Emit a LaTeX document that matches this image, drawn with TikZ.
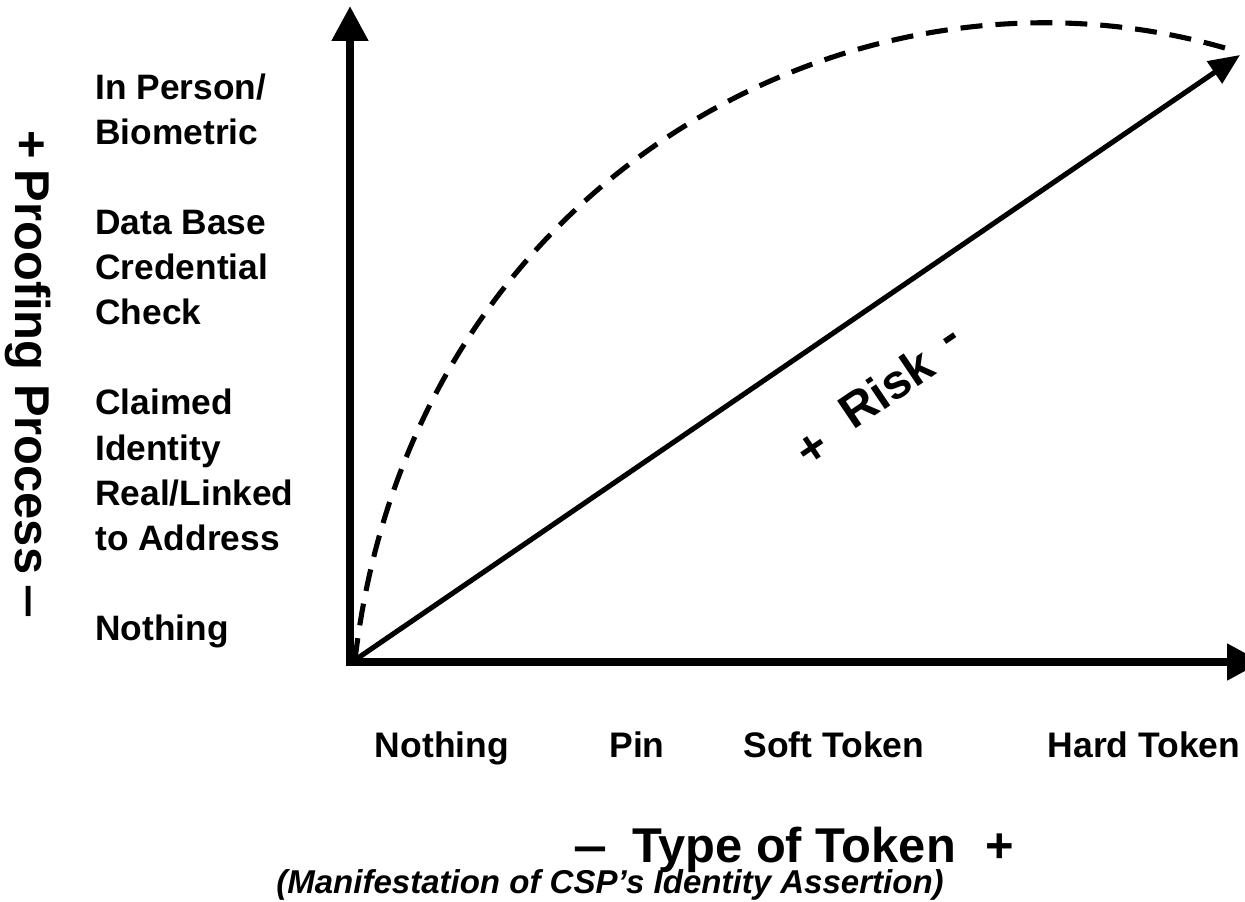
\documentclass[tikz,border=0pt]{standalone}
\usepackage{fontspec}
\setmainfont{Liberation Sans}
\usetikzlibrary{arrows.meta}
\begin{document}
\begin{tikzpicture}[x=0.02cm,y=-0.02cm,
  axis/.style={line width=4.55pt, -{Triangle[length=0.7cm,width=0.7cm]}},
  diag/.style={line width=2.9pt, -{Triangle[length=0.62cm,width=0.52cm]}},
  curve/.style={line width=2.9pt, dash pattern=on 0.44cm off 0.26cm},
  lab/.style={anchor=base west, inner sep=0, font=\fontsize{20.1}{24}\selectfont\bfseries},
  tok/.style={anchor=base, inner sep=0, font=\fontsize{20.2}{24}\selectfont\bfseries},
  big/.style={anchor=base, inner sep=0, font=\fontsize{27.8}{32}\selectfont\bfseries},
  sub/.style={anchor=base, inner sep=0, font=\fontsize{18.8}{22}\selectfont\bfseries\itshape},
  risk/.style={inner sep=0, font=\fontsize{27.5}{30}\selectfont\bfseries, rotate=34}]
\useasboundingbox (0,0) rectangle (1245,902);
% coordinates
\coordinate (ybot) at (350,666);
\coordinate (ytip) at (350,6);
\coordinate (xleft) at (346,662);
\coordinate (xtip) at (1262,662);
\coordinate (dstart) at (355,660);
\coordinate (dtip) at (1240,55);
\coordinate (cend) at (1225,48);
% axes
\draw[axis] (ybot) -- (ytip);
\draw[axis] (xleft) -- (xtip);
% risk line and curve
\draw[diag] (dstart) -- (dtip);
\draw[curve] (dstart) .. controls (410,185) and (850,-60) .. (cend);
\node[risk] (rplus) at (813,450) {+};
\node[risk] (risk) at (886,388) {Risk};
\node[risk] (rminus) at (953,343) {-};
% left labels
\node[lab] (l1) at (95,100) {In Person/};
\node[lab] (l2) at (95,145) {Biometric};
\node[lab] (l3) at (95,235) {Data Base};
\node[lab] (l4) at (95,280) {Credential};
\node[lab] (l5) at (95,325) {Check};
\node[lab] (l6) at (95,415) {Claimed};
\node[lab] (l7) at (95,460) {Identity};
\node[lab] (l8) at (95,505) {Real/Linked};
\node[lab] (l9) at (95,550) {to Address};
\node[lab] (l10) at (95,640) {Nothing};
% bottom labels
\node[tok] (b1) at (442,757) {Nothing};
\node[tok] (b2) at (637,757) {Pin};
\node[tok] (b3) at (834,757) {Soft Token};
\node[tok] (b4) at (1144,757) {Hard Token};
% axis titles
\node[big] (tm) at (590,862) {\scalebox{1.25}[1]{–}};
\node[big] (tt) at (794,862) {Type of Token};
\node[big] (tp) at (1000,862) {+};
\node[sub] (sub) at (610,893) {(Manifestation of CSP’s Identity Assertion)};
\node[big, rotate=-90] (pplus) at (15,145) {+};
\node[big, rotate=-90] (pp) at (15,372) {Proofing Process};
\node[big, rotate=-90] (pminus) at (15,601) {\scalebox{1.25}[1]{–}};
\end{tikzpicture}
\end{document}
